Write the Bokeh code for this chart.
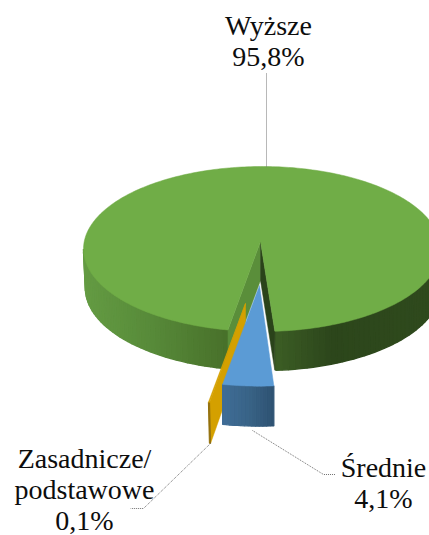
import math
from bokeh.plotting import figure
from bokeh.models import Range1d
from bokeh.core.properties import value
from bokeh.embed import file_html
from bokeh.resources import INLINE

categories = ["Wyższe", "Średnie", "Zasadnicze/\npodstawowe"]
shares = [95.8, 4.1, 0.1]
first_angle = 191.0

# projection of the 3D pie
CX, CY, RX, RY = 261.5, 248.5, 178.5, 82.5
DEPTH = 39.0
APEX = (260.0, 241.0)


def rim(theta, c=(CX, CY), sx=1.0, sy=1.0):
    t = math.radians(theta)
    return (c[0] + RX * sx * math.sin(t), c[1] - RY * sy * math.cos(t))


def lerp_hex(stops, x):
    if x <= stops[0][0]:
        return stops[0][1]
    for (x0, c0), (x1, c1) in zip(stops, stops[1:]):
        if x <= x1:
            f = (x - x0) / (x1 - x0)
            a = [int(c0[i:i + 2], 16) for i in (1, 3, 5)]
            b = [int(c1[i:i + 2], 16) for i in (1, 3, 5)]
            return "#%02x%02x%02x" % tuple(round(u + (v - u) * f) for u, v in zip(a, b))
    return stops[-1][1]


p = figure(width=429, height=535, x_range=Range1d(0, 429), y_range=Range1d(535, 0),
           output_backend="svg", toolbar_location=None, min_border=0,
           background_fill_color="white", outline_line_color=None)
p.axis.visible = False
p.grid.visible = False

# slice angles, clockwise from the top
spans = [s * 3.6 for s in shares]
g0 = first_angle
g1 = g0 + spans[0]
b0 = g1
b1 = b0 + spans[1]
o0 = b1
o1 = o0 + spans[2]

STEP = 2.0

# --- green outer wall ---
wall_stops = [(83, "#649b43"), (150, "#578a39"), (226, "#48702a"), (277, "#3b5c24"),
              (330, "#2c461b"), (429, "#2f4a1d")]
xs_all, ys_all, cols = [], [], []
for a, b in [(g0, 270.0), (450.0, g1)]:
    n = max(1, int((b - a) / STEP))
    for i in range(n):
        t0 = a + (b - a) * i / n
        t1 = a + (b - a) * (i + 1) / n
        p0, p1 = rim(t0), rim(t1)
        q0 = rim(t0, (CX + 1, CY + DEPTH), 0.995)
        q1 = rim(t1, (CX + 1, CY + DEPTH), 0.995)
        xs_all.append([p0[0], p1[0], q1[0], q0[0]])
        ys_all.append([p0[1], p1[1], q1[1], q0[1]])
        cols.append(lerp_hex(wall_stops, (p0[0] + p1[0]) / 2))
p.patches(xs_all, ys_all, fill_color=cols, line_color=cols, line_width=1.5)

# --- green cut walls ---
gs = rim(g0)
ge = rim(g1)
p.patch([APEX[0], gs[0], gs[0], APEX[0]], [APEX[1], gs[1], gs[1] + DEPTH, APEX[1] + DEPTH],
        fill_color="#5a8e3a", line_color="#5a8e3a", line_width=0.5)
p.patch([APEX[0], ge[0], ge[0], APEX[0]], [APEX[1], ge[1], ge[1] + DEPTH, APEX[1] + DEPTH],
        fill_color="#2a431a", line_color="#2a431a", line_width=0.5)

# --- green top ---
n = int(spans[0])
arc = [rim(g0 + spans[0] * i / n) for i in range(n + 1)]
p.patch([APEX[0]] + [a[0] for a in arc], [APEX[1]] + [a[1] for a in arc],
        fill_color="#70ad47", line_color="#70ad47", line_width=0.5)

# --- orange exploded sliver ---
O_APEX = (245.0, 303.0)
O_SX, O_SY = 1.09, 1.22
O_DEPTH = 41.0


def orim(t):
    q = rim(t, (0, 0), O_SX, O_SY)
    return (O_APEX[0] + q[0], O_APEX[1] + q[1])


oa = orim(o0)
ob = orim(o1)
p.patch([O_APEX[0], oa[0], oa[0] + 1, O_APEX[0]],
        [O_APEX[1], oa[1], oa[1] + O_DEPTH, O_APEX[1] + O_DEPTH],
        fill_color="#d4a000", line_color="#d4a000", line_width=0.5)
p.patch([oa[0], ob[0], ob[0] + 1, oa[0] + 1],
        [oa[1], ob[1], ob[1] + O_DEPTH, oa[1] + O_DEPTH],
        fill_color="#94700a", line_color="#94700a", line_width=1)
p.patch([O_APEX[0], oa[0], ob[0]], [O_APEX[1], oa[1], ob[1]],
        fill_color="#d4a000", line_color="#d4a000", line_width=0.5)

# --- blue exploded slice ---
B_APEX = (259.0, 285.0)
B_SX, B_SY = 1.12, 1.22
B_DEPTH = 40.0


def brim(t):
    q = rim(t, (0, 0), B_SX, B_SY)
    return (B_APEX[0] + q[0], B_APEX[1] + q[1])


wall_blue = [(222, "#3f6d97"), (250, "#386285"), (275, "#2d5070")]
xs_all, ys_all, cols = [], [], []
n = 14
for i in range(n):
    t0 = b0 + spans[1] * i / n
    t1 = b0 + spans[1] * (i + 1) / n
    u0, u1 = brim(t0), brim(t1)
    xs_all.append([u0[0], u1[0], u1[0], u0[0]])
    ys_all.append([u0[1], u1[1], u1[1] + B_DEPTH, u0[1] + B_DEPTH])
    cols.append(lerp_hex(wall_blue, (u0[0] + u1[0]) / 2))
p.patches(xs_all, ys_all, fill_color=cols, line_color=cols, line_width=1.2)

barc = [brim(b0 + spans[1] * i / n) for i in range(n + 1)]
p.patch([B_APEX[0]] + [a[0] for a in barc], [B_APEX[1]] + [a[1] for a in barc],
        fill_color="#5b9bd5", line_color="#5b9bd5", line_width=0.5)

# --- leader lines ---
leader_x = [[266, 266], [252, 323, 335], [210, 143, 130]]
leader_y = [[73, 166], [430, 474, 474], [443, 508, 508]]
p.multi_line(leader_x, leader_y, line_color="#707070", line_width=1, line_dash="1 1")

# --- labels ---
label_x = [268, 383, 84]
label_y = [25, 467, 457.5]
LINE = 31.3
tx, ty, tt = [], [], []
for cat, sh, lx, ly in zip(categories, shares, label_x, label_y):
    lines = cat.split("\n") + [f"{sh:.1f}%".replace(".", ",")]
    for k, s in enumerate(lines):
        tx.append(lx)
        ty.append(ly + k * LINE)
        tt.append(s)
p.text(tx, ty, text=tt, text_font=value("Liberation Serif"), text_font_size="28px",
       text_color="#0d0d0d", text_align="center", text_baseline="middle")

open("out.html", "w").write(file_html(p, INLINE))
